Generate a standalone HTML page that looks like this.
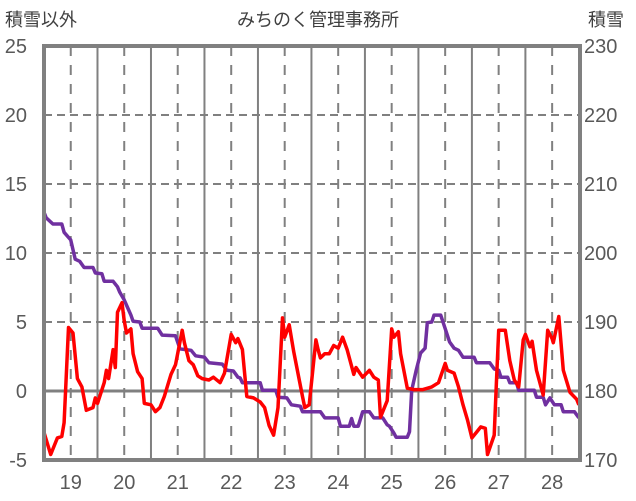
<!DOCTYPE html>
<html><head><meta charset="utf-8">
<style>
html,body{margin:0;padding:0;background:#fff;}
svg{display:block;font-family:"Liberation Sans","Noto Sans CJK JP",sans-serif;}
</style></head>
<body>
<svg id="chart" width="636" height="501" viewBox="0 0 636 501" xmlns="http://www.w3.org/2000/svg">
<text x="5" y="26" font-size="18" fill="#404040">積雪以外</text>
<text x="318" y="26" font-size="18" fill="#404040" text-anchor="middle">みちのく管理事務所</text>
<text x="588" y="26" font-size="18" fill="#404040">積雪</text>
<g id="grid"></g>
<g id="ticks"></g>
<g id="series"></g>
<rect x="44" y="46" width="536" height="414" fill="none" stroke="#808080" stroke-width="4"/>
</svg>
<script>
const leftTicks=[25,20,15,10,5,0,-5];
const rightTicks=[230,220,210,200,190,180,170];
const dayLabels=["19","20","21","22","23","24","25","26","27","28"];
const redHours=[0,3,6,8,9,11,13,15,17,19,22,23,24,27,28,29,31,32,33,35,36,37,39,40,42,44,45,48,50,52,54,57,59,62,63,65,67,69,71,74,76,79,81,84,86,87,89,91,94,97,99,101,103,105,107,108,110,112,116,117,119,122,123,124,126,128,130,132,134,136,139,140,143,146,148,150,151,154,156,157,159,160,163,166,170,174,177,180,181,184,186,188,190,192,194,196,198,199,202,203,204,207,209,211,213,215,216,218,219,221,224,226,228,228.5,231,233,236,239,240];
const redValues=[-3.0,-4.6,-3.4,-3.3,-2.3,4.6,4.2,0.9,0.3,-1.4,-1.2,-0.5,-0.9,0.6,1.5,0.9,3.0,1.7,5.7,6.4,5.1,4.2,4.5,2.7,1.4,0.9,-0.9,-1.0,-1.5,-1.2,-0.4,1.2,1.9,4.4,3.5,2.2,1.9,1.1,0.9,0.8,1.0,0.6,1.3,4.1,3.5,3.8,3.0,-0.4,-0.5,-0.8,-1.2,-2.5,-3.2,-1.2,5.3,3.9,4.8,2.9,-0.4,-1.2,-1.0,3.7,3.0,2.4,2.7,2.7,3.3,3.1,3.9,3.0,1.2,1.7,1.0,1.5,1.0,0.8,-1.9,-0.7,4.5,3.9,4.3,2.7,0.2,0.1,0.1,0.3,0.6,2.0,1.5,1.3,0.3,-1.0,-2.1,-3.4,-3.0,-2.6,-2.7,-4.6,-3.2,0.6,4.4,4.4,2.2,0.8,0.3,3.7,4.1,3.2,3.6,1.5,-0.3,4.4,3.8,3.5,5.4,1.5,-0.1,-0.6,-1.0];
const snowHours=[0,1,4,8,9,12,14,16,18,22,23,26,27,31,33,34,36,39,40,43,44,51,53,59,61,66,68,72,74,80,82,85,87,88,89,97,98,104,105,109,111,115,116,124,126,132,133,137,138,139,141,143,146,148,152,154,155,157,158,163,164,165,167,169,171,172,174,175,178,182,184,186,188,193,194,200,202,204,205,208,209,212,213,220,221,224,225,227,229,232,233,238,240];
const snowValues=[205.9,205.1,204.2,204.2,203.0,201.9,199.1,198.8,197.9,197.9,197.1,197.0,195.9,195.9,195.1,194.3,193.2,191.0,190.1,190.0,189.1,189.1,188.1,188.0,186.1,185.9,185.1,184.9,184.1,183.9,183.0,182.9,182.0,181.9,181.2,181.2,180.1,180.1,179.1,179.0,178.0,177.8,177.0,177.0,176.1,176.1,174.9,174.9,176.0,174.9,174.9,177.0,177.0,176.1,176.1,175.1,174.9,173.9,173.3,173.3,174.1,180.1,183.0,185.5,186.2,189.9,190.0,191.0,191.0,187.1,186.2,185.9,184.9,184.9,184.1,184.1,183.2,183.0,182.0,182.0,181.2,181.2,180.1,180.1,179.1,179.1,178.0,179.0,178.0,178.0,177.0,177.0,176.1];

const NS="http://www.w3.org/2000/svg";
const X0=44,X1=580,Y0=46,Y1=460,HMAX=240.5;
function xs(h){return X0+h/HMAX*(X1-X0);}
function yl(v){return Y1-(v+5)/30*(Y1-Y0);}
function yr(v){return Y1-(v-170)/60*(Y1-Y0);}
function mk(tag,attrs,parent){const e=document.createElementNS(NS,tag);for(const k in attrs)e.setAttribute(k,attrs[k]);parent.appendChild(e);return e;}
const grid=document.getElementById('grid'),ticks=document.getElementById('ticks'),series=document.getElementById('series');
leftTicks.forEach((v,i)=>{
  const y=yl(v);
  if(v!==25&&v!==-5){
    const l=mk('line',{x1:X0,x2:X1,y1:y,y2:y,stroke:'#808080','stroke-width':v===0?3:2,'stroke-dasharray':v===0?'none':'8,5'},grid);
    
    
  }
  const t=mk('text',{x:27,y:y+7,'font-size':20,fill:'#595959','text-anchor':'end'},ticks);
  t.textContent=v;
  
  
  const r=mk('text',{x:584,y:yr(rightTicks[i])+7,'font-size':20,fill:'#595959'},ticks);
  r.textContent=rightTicks[i];
  
  
});
dayLabels.forEach((d,i)=>{
  const h=12+24*i, x=xs(h);
  const l=mk('line',{x1:x,x2:x,y1:Y0,y2:Y1,stroke:'#808080','stroke-width':2,'stroke-dasharray':'10,9'},grid);
  
  
  const xm=xs(h+12);
  if(xm<X1-2){
    const m=mk('line',{x1:xm,x2:xm,y1:Y0,y2:Y1,stroke:'#808080','stroke-width':2},grid);
    
    
  }
  const t=mk('text',{x:x,y:489,'font-size':20,fill:'#595959','text-anchor':'middle'},ticks);
  t.textContent=d;
  
  
});
const pr=snowHours.map((h,i)=>xs(h).toFixed(1)+','+yr(snowValues[i]).toFixed(1)).join(' ');
const p1=mk('polyline',{points:pr,fill:'none',stroke:'#7030A0','stroke-width':3.5,'stroke-linejoin':'round'},series);


const rr=redHours.map((h,i)=>xs(h).toFixed(1)+','+yl(redValues[i]).toFixed(1)).join(' ');
const p2=mk('polyline',{points:rr,fill:'none',stroke:'#FF0000','stroke-width':3.5,'stroke-linejoin':'round'},series);


</script>
</body></html>
